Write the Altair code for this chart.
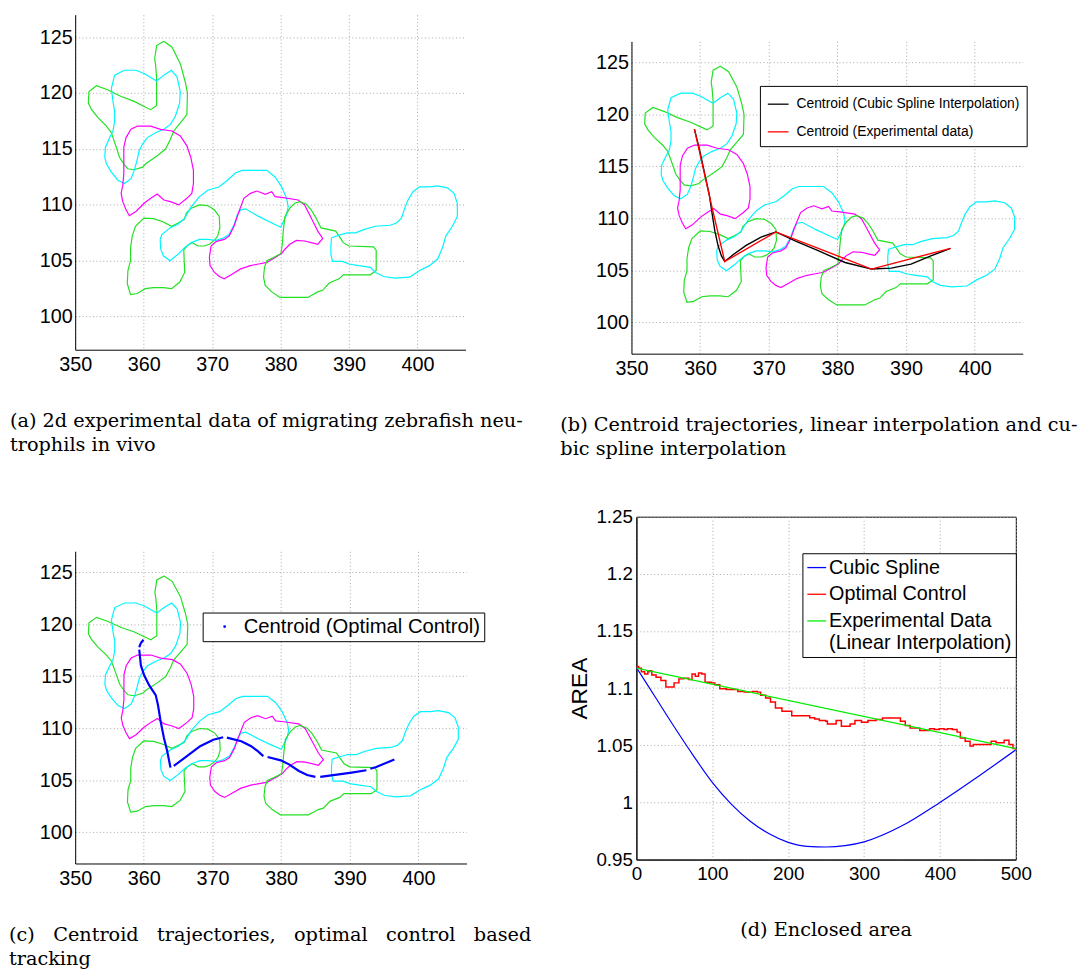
import altair as alt
import pandas as pd

# ---------------- data ----------------
X_TICKS = [350, 360, 370, 380, 390, 400]
Y_TICKS = [100, 105, 110, 115, 120, 125]
AREA_X_TICKS = [0, 100, 200, 300, 400, 500]
AREA_Y_TICKS = [0.95, 1, 1.05, 1.1, 1.15, 1.2, 1.25]

# cell outlines (x, y), one list per frame
G1 = [(362.95,124.62),(364.15,124.09),(365.35,122.62),(366.07,121.0),(366.4,119.97),(366.31,118.06),(365.35,117.32),(364.39,116.59),(363.91,115.85),(363.19,114.97),(361.99,114.38),(360.31,113.65),(359.83,113.35),(358.63,113.12),(357.67,113.21),(357.1,113.65),(356.47,114.24),(355.85,115.41),(355.28,116.44),(354.56,117.03),(353.36,117.76),(352.4,118.5),(351.92,119.09),(352.01,120.12),(353.12,120.65),(354.8,120.26),(356.71,119.68),(358.63,119.24),(360.07,118.79),(361.03,118.5),(361.89,118.88),(361.89,120.12),(361.89,121.29),(361.75,122.47),(361.61,123.06),(361.89,124.24)]
C1 = [(355.28,120.41),(355.76,121.59),(357.19,122.03),(358.87,122.03),(360.07,121.74),(361.89,121.06),(362.95,121.59),(364.05,122.03),(364.87,121.44),(365.35,120.12),(365.25,119.09),(364.63,117.91),(363.91,117.18),(362.95,116.74),(361.75,116.44),(360.55,116.0),(359.83,115.41),(359.35,114.82),(359.02,113.94),(358.63,113.06),(358.15,112.32),(357.19,111.88),(356.24,112.18),(355.28,112.91),(354.56,113.65),(354.32,114.24),(354.41,115.12),(355.04,116.0),(355.52,116.59),(355.76,117.47),(355.76,118.35),(355.52,119.24)]
M1 = [(359.11,117.03),(361.03,117.03),(362.47,116.74),(364.15,116.59),(365.35,116.15),(366.31,115.26),(366.88,114.24),(367.27,113.06),(367.27,111.88),(367.03,111.0),(366.31,110.56),(365.11,109.97),(363.91,110.26),(362.95,110.41),(361.99,110.94),(361.03,110.56),(360.07,110.12),(358.87,109.38),(357.91,109.0),(357.43,109.53),(356.95,110.26),(356.71,111.0),(356.95,111.74),(357.1,112.76),(357.1,114.09),(357.1,115.12),(357.43,116.0),(358.15,116.74)]
G2 = [(360.01,108.79),(361.45,108.74),(362.88,108.44),(364.08,108.06),(365.04,108.35),(365.91,108.65),(366.24,109.24),(366.96,109.68),(368.16,109.97),(369.36,109.91),(370.32,109.53),(371.04,108.94),(371.13,107.91),(370.8,107.18),(370.32,106.79),(369.6,106.44),(368.88,106.29),(367.92,106.29),(367.11,106.59),(366.48,106.38),(365.86,105.91),(365.91,105.12),(366.0,103.94),(365.28,103.06),(364.08,102.47),(362.88,102.56),(361.45,102.56),(360.25,102.47),(359.05,102.03),(358.09,101.94),(357.61,102.91),(357.7,104.09),(358.09,104.97),(358.09,106.15),(358.33,107.18),(358.81,108.06)]
C2 = [(362.41,106.88),(362.65,107.32),(363.84,107.91),(365.04,108.26),(366.0,108.79),(366.96,109.82),(368.16,110.71),(369.36,111.29),(371.04,111.59),(372.24,112.18),(373.44,112.85),(374.4,113.06),(377.99,113.06),(379.19,112.47),(380.15,111.59),(380.87,110.56),(381.11,109.82),(380.87,109.09),(380.01,107.97),(378.71,108.35),(376.79,108.94),(374.87,109.62),(374.16,109.53),(373.68,109.09),(373.2,108.21),(372.48,107.32),(371.52,106.97),(370.56,106.79),(369.36,106.88),(368.16,106.88),(366.96,106.59),(366.0,106.15),(365.04,105.56),(363.84,104.97),(362.88,105.41),(362.5,106.0)]
M2 = [(369.84,106.29),(370.56,106.68),(371.76,106.88),(372.48,107.18),(373.2,108.06),(373.92,109.38),(374.64,110.56),(375.59,111.0),(376.55,111.21),(377.75,110.91),(378.71,111.15),(379.19,110.71),(380.39,110.62),(382.55,110.41),(383.51,109.97),(384.23,109.09),(384.71,108.5),(385.43,107.62),(386.15,106.97),(385.43,106.44),(384.47,106.59),(383.51,106.74),(382.31,106.79),(381.35,106.44),(380.63,106.0),(380.15,105.62),(379.19,105.26),(377.99,104.82),(376.79,104.68),(375.59,104.53),(374.16,104.24),(372.96,103.79),(371.76,103.35),(371.04,103.56),(370.32,103.94),(369.7,104.53),(369.6,105.26)]
G3 = [(382.79,110.26),(383.74,110.03),(384.46,109.53),(385.18,108.79),(385.9,107.91),(388.06,107.62),(388.54,107.18),(389.16,106.59),(389.98,106.29),(393.58,106.21),(393.96,105.91),(393.96,104.09),(393.1,103.71),(391.18,103.71),(389.16,103.71),(388.54,103.35),(387.1,102.97),(386.14,102.32),(385.42,102.18),(383.98,101.68),(379.91,101.68),(378.71,102.18),(377.75,102.76),(377.51,103.5),(377.65,104.38),(377.99,104.97),(378.95,105.26),(380.05,105.62),(380.24,106.44),(380.39,107.62),(380.63,108.94),(381.35,109.68),(382.07,110.12)]
C3 = [(387.44,107.03),(388.54,107.26),(389.74,107.47),(390.94,107.47),(392.14,107.76),(393.82,108.06),(395.98,108.15),(396.93,108.35),(397.65,108.79),(398.13,109.68),(398.61,110.41),(399.33,111.15),(400.29,111.59),(401.73,111.59),(402.93,111.68),(404.37,111.5),(405.33,111.0),(405.81,110.12),(405.81,108.94),(405.09,108.06),(404.13,107.18),(403.65,106.15),(402.93,105.12),(401.73,104.53),(400.29,104.09),(398.85,103.5),(396.69,103.41),(395.02,103.56),(393.82,103.94),(393.1,104.38),(391.42,104.53),(389.98,104.68),(389.02,104.91),(387.58,104.91),(387.34,105.56),(387.34,106.29)]

OUTLINE_NAMES = ["G1", "C1", "M1", "G2", "C2", "M2", "G3", "C3"]
OUTLINE_PTS = [G1, C1, M1, G2, C2, M2, G3, C3]

# centroid trajectories (panel b)
SPLINE_CENTROID = [(359.17,118.58),(359.89,116.68),(360.71,114.15),(361.34,112.25),(361.77,110.35),(362.15,108.77),(362.63,107.34),(363.11,106.39),(363.59,105.85),(364.79,106.5),(366.71,107.4),(368.88,108.2),(371.04,108.7),(373.92,107.82),(377.28,106.87),(381.12,105.76),(384.97,105.13),(387.85,105.22),(390.73,105.6),(393.61,106.39),(396.49,107.12)]
EXP_CENTROID = [(359.17,118.58),(361.75,111.0),(363.59,105.85),(371.04,108.7),(384.97,105.13),(396.49,107.12)]

# optimal-control centroid (panel c), drawn in pieces
OC_SEGMENTS = [
    [(359.95,118.5),(359.57,118.19),(359.33,117.78)],
    [(359.33,117.55),(359.42,116.98),(359.57,116.03),(360.05,115.08),(360.77,114.13),(361.73,113.18),(362.06,112.23),(362.45,110.65),(362.93,109.06),(363.41,107.79),(363.88,106.21)],
    [(364.36,106.37),(366.28,107.32),(368.2,108.27),(370.12,108.9),(371.56,109.13)],
    [(372.1,109.1),(374.2,108.75),(375.64,108.27),(376.6,107.79),(377.41,107.32)],
    [(378.03,107.23),(379.95,106.91),(381.15,106.53),(382.59,105.89),(383.79,105.51),(384.99,105.32)],
    [(385.7,105.32),(387.87,105.51),(390.26,105.73),(392.42,105.96)],
    [(393.0,106.1),(393.86,106.27),(396.5,107.0)],
]

# enclosed area (panel d)
AREA_SPLINE_X = [0, 25, 50, 75, 100, 125, 150, 175, 200, 225, 250, 300, 350, 400, 450, 500]
AREA_SPLINE_Y = [1.118, 1.092, 1.066, 1.041, 1.0175, 0.9985, 0.9835, 0.9725, 0.965, 0.9615, 0.961, 0.9655, 0.9795, 1.0, 1.0225, 1.046]
AREA_LINEAR_X = [0, 500]
AREA_LINEAR_Y = [1.1175, 1.047]
AREA_OC_X = [0, 3, 6.5, 10.8, 15.1, 17.2, 20.3, 25.9, 32.3, 38.8, 45.3, 49.6, 56, 62.5, 68.9, 73.3, 77.6, 81.9, 86.2, 90.5, 99.1, 103.4, 109.9, 118.5, 127.2, 133.6, 142.2, 153, 159.5, 163.8, 170.3, 176.7, 183.2, 191.8, 200.4, 204.7, 222, 228.4, 234.9, 241, 249.6, 251.7, 260.3, 263.2, 270.1, 277.4, 281.6, 288, 296.6, 305.1, 315.8, 324.4, 339.3, 347.9, 354.3, 360.7, 369.2, 373.5, 382, 386.3, 392.7, 399.1, 405.5, 409.8, 416.2, 422.6, 426.9, 433.3, 439.7, 444, 463.2, 467.5, 473.9, 484.6, 491, 496.2, 500]
AREA_OC_Y = [1.119, 1.1173, 1.1144, 1.1124, 1.1144, 1.1153, 1.1115, 1.1095, 1.1066, 1.1009, 1.1009, 1.1046, 1.1081, 1.1086, 1.1075, 1.1124, 1.1104, 1.1133, 1.1124, 1.1052, 1.1046, 1.1029, 1.0994, 1.0988, 1.0988, 1.0971, 1.0965, 1.0971, 1.0965, 1.0937, 1.0914, 1.0879, 1.0827, 1.0798, 1.0798, 1.0758, 1.0758, 1.074, 1.0729, 1.0716, 1.071, 1.0687, 1.0687, 1.0716, 1.0667, 1.0667, 1.0687, 1.0716, 1.0702, 1.0716, 1.0725, 1.0739, 1.0739, 1.071, 1.0673, 1.065, 1.065, 1.063, 1.063, 1.0644, 1.0638, 1.0644, 1.0638, 1.0644, 1.0638, 1.0615, 1.0563, 1.0535, 1.0494, 1.0506, 1.0506, 1.0535, 1.0523, 1.0543, 1.0506, 1.0471, 1.046]

# legend labels ("|" marks a line break)
AREA_SERIES = ["Cubic Spline", "Optimal Control", "Experimental Data|(Linear Interpolation)"]

# captions (justified line of (c) uses no-break spaces to widen the gaps)
GAP = " \u00a0\u00a0"
CAPTION_A = ["(a) 2d experimental data of migrating zebrafish neu-", "trophils in vivo"]
CAPTION_B = ["(b) Centroid trajectories, linear interpolation and cu-", "bic spline interpolation"]
CAPTION_C = [GAP.join(["(c)", "Centroid", "trajectories,", "optimal", "control", "based"]), "tracking"]
CAPTION_D = ["(d) Enclosed area"]

# ---------------- styles ----------------
OUTLINE_COLORS = {"G": "#22e022", "C": "#00f4ff", "M": "#ff00ff"}
AREA_COLORS = ["#0000ff", "#ff0000", "#00ee00"]
SANS = "Liberation Sans"
SERIF = "DejaVu Serif"

# ---------------- tables ----------------
rows = []
for name, pts in zip(OUTLINE_NAMES, OUTLINE_PTS):
    closed = pts + [pts[0]]
    for i, (x, y) in enumerate(closed):
        rows.append({"shape": name, "i": i, "x": x, "y": y, "color": OUTLINE_COLORS[name[0]]})
outline_df = pd.DataFrame(rows)

traj_rows = []
for label, pts in [("Centroid (Cubic Spline Interpolation)", SPLINE_CENTROID),
                   ("Centroid (Experimental data)", EXP_CENTROID)]:
    for i, (x, y) in enumerate(pts):
        traj_rows.append({"series": label, "i": i, "x": x, "y": y})
traj_df = pd.DataFrame(traj_rows)

oc_rows = []
for s, seg in enumerate(OC_SEGMENTS):
    for i, (x, y) in enumerate(seg):
        oc_rows.append({"series": "Centroid (Optimal Control)", "seg": s, "i": i, "x": x, "y": y})
oc_df = pd.DataFrame(oc_rows)

spline_df = pd.DataFrame({"x": AREA_SPLINE_X, "y": AREA_SPLINE_Y, "series": AREA_SERIES[0]})
oc_area_df = pd.DataFrame({"x": AREA_OC_X, "y": AREA_OC_Y, "series": AREA_SERIES[1]})
lin_df = pd.DataFrame({"x": AREA_LINEAR_X, "y": AREA_LINEAR_Y, "series": AREA_SERIES[2]})

# ---------------- helpers ----------------
GRID = dict(grid=True, gridColor="#a8a8a8", gridDash=[1, 2.5], gridWidth=1,
            domainColor="black", domainWidth=1, ticks=False, tickSize=0,
            labelFont=SANS, labelColor="black", labelOverlap=False, labelFlush=False)


def xenc():
    return alt.X("x:Q", scale=alt.Scale(domain=[350, 407], nice=False, zero=False),
                 axis=alt.Axis(values=X_TICKS, title=None, labelFontSize=20, labelPadding=5, **GRID))


def yenc():
    return alt.Y("y:Q", scale=alt.Scale(domain=[97, 127], nice=False, zero=False),
                 axis=alt.Axis(values=Y_TICKS, title=None, labelFontSize=20, labelPadding=3, **GRID))


def caption(lines, dx, anchor="start"):
    return alt.TitleParams(text=lines, orient="bottom", anchor=anchor, frame="group", dx=dx,
                           offset=38, font=SERIF, fontSize=19.5, fontWeight="normal",
                           color="black", lineHeight=24.5, baseline="top")


def outlines():
    return alt.Chart(outline_df).mark_line(strokeWidth=1.2, clip=True).encode(
        x=xenc(), y=yenc(),
        color=alt.Color("color:N", scale=None, legend=None),
        detail="shape:N", order="i:Q")


def spacer(w, h):
    return alt.Chart(pd.DataFrame({"v": [0]})).mark_point(opacity=0, size=0).encode(
        x=alt.value(w / 2), y=alt.value(h / 2)).properties(width=w, height=h)


# ---------------- panels ----------------
panel_a = alt.layer(outlines()).properties(width=395, height=339, title=caption(CAPTION_A, -66))

traj = alt.Chart(traj_df).mark_line(strokeWidth=1.4, clip=True).encode(
    x=xenc(), y=yenc(),
    color=alt.Color("series:N",
                    scale=alt.Scale(domain=["Centroid (Cubic Spline Interpolation)", "Centroid (Experimental data)"],
                                    range=["black", "red"]),
                    legend=alt.Legend(title=None, orient="none", legendX=130, legendY=45,
                                      strokeColor="black", fillColor="white", padding=7, rowPadding=9,
                                      labelFont=SANS, labelFontSize=14, labelColor="black", labelOffset=7,
                                      labelLimit=0, symbolType="stroke", symbolSize=441, symbolStrokeWidth=1.3)),
    order="i:Q")
panel_b = alt.layer(outlines(), traj).resolve_scale(color="independent").properties(
    width=396, height=316, title=caption(CAPTION_B, -72))

oc = alt.Chart(oc_df).mark_line(strokeWidth=2.2, clip=True).encode(
    x=xenc(), y=yenc(),
    color=alt.Color("series:N", scale=alt.Scale(domain=["Centroid (Optimal Control)"], range=["#0000ff"]),
                    legend=alt.Legend(title=None, orient="none", legendX=129, legendY=62,
                                      strokeColor="black", fillColor="white", padding=4,
                                      labelFont=SANS, labelFontSize=20.5, labelColor="black", labelOffset=9,
                                      labelLimit=0, symbolType="circle", symbolSize=2, symbolStrokeWidth=1.5,
                                      symbolOffset=8)),
    detail="seg:N", order="i:Q")
panel_c = alt.layer(outlines(), oc).resolve_scale(color="independent").properties(
    width=396, height=316, title=caption(CAPTION_C, -67))

area_legend = alt.Legend(title=None, orient="none", legendX=168, legendY=37,
                         strokeColor="black", fillColor="white", padding=4, rowPadding=6,
                         labelFont=SANS, labelFontSize=20, labelColor="black", labelOffset=2,
                         labelLimit=0, symbolType="stroke", symbolSize=361, symbolStrokeWidth=1.3)
area_scale = alt.Scale(domain=AREA_SERIES, range=AREA_COLORS)
ax_x = alt.X("x:Q", scale=alt.Scale(domain=[0, 500], nice=False, zero=False),
             axis=alt.Axis(values=AREA_X_TICKS, title=None, labelFontSize=19, labelPadding=5, **GRID))
ax_y = alt.Y("y:Q", scale=alt.Scale(domain=[0.95, 1.25], nice=False, zero=False),
             axis=alt.Axis(values=AREA_Y_TICKS, format="~g", title="AREA", titleFont=SANS, titleFontSize=23,
                           titleFontWeight="normal", titleColor="black", titlePadding=5,
                           labelFontSize=19, labelPadding=4, **GRID))
d_blue = alt.Chart(spline_df).mark_line(strokeWidth=1.2, interpolate="monotone", clip=True).encode(
    x=ax_x, y=ax_y, color=alt.Color("series:N", scale=area_scale, legend=area_legend))
d_red = alt.Chart(oc_area_df).mark_line(strokeWidth=1.5, interpolate="step-after", clip=True).encode(
    x=ax_x, y=ax_y, color=alt.Color("series:N", scale=area_scale, legend=None))
d_green = alt.Chart(lin_df).mark_line(strokeWidth=1.2, clip=True).encode(
    x=ax_x, y=ax_y, color=alt.Color("series:N", scale=area_scale, legend=None))
panel_d = alt.layer(d_blue, d_red, d_green).resolve_scale(color="independent").properties(
    width=384, height=347, title=caption(CAPTION_D, 0, anchor="middle"),
    view=alt.ViewBackground(stroke="black", strokeWidth=1))

# ---------------- layout ----------------
left = alt.vconcat(panel_a, spacer(1, 204), panel_c, spacing=0, bounds="flush"
                   ).resolve_scale(color="independent").resolve_legend(color="independent")
d_row = alt.hconcat(spacer(5, 1), panel_d, spacing=0, bounds="flush"
                    ).resolve_scale(color="independent").resolve_legend(color="independent")
right = alt.vconcat(spacer(1, 27), panel_b, spacer(1, 165), d_row, spacing=0, bounds="flush"
                    ).resolve_scale(color="independent").resolve_legend(color="independent")

chart = alt.hconcat(left, right, spacing=563, bounds="flush").resolve_scale(
    color="independent").resolve_legend(color="independent").properties(
    padding={"left": 0, "top": 0, "right": 5, "bottom": 0}
).configure(
    style={"guide-label": {"lineBreak": "|"}}
).configure_view(stroke="transparent")

chart.save("out.html", embed_options={"renderer": "svg", "actions": False})
